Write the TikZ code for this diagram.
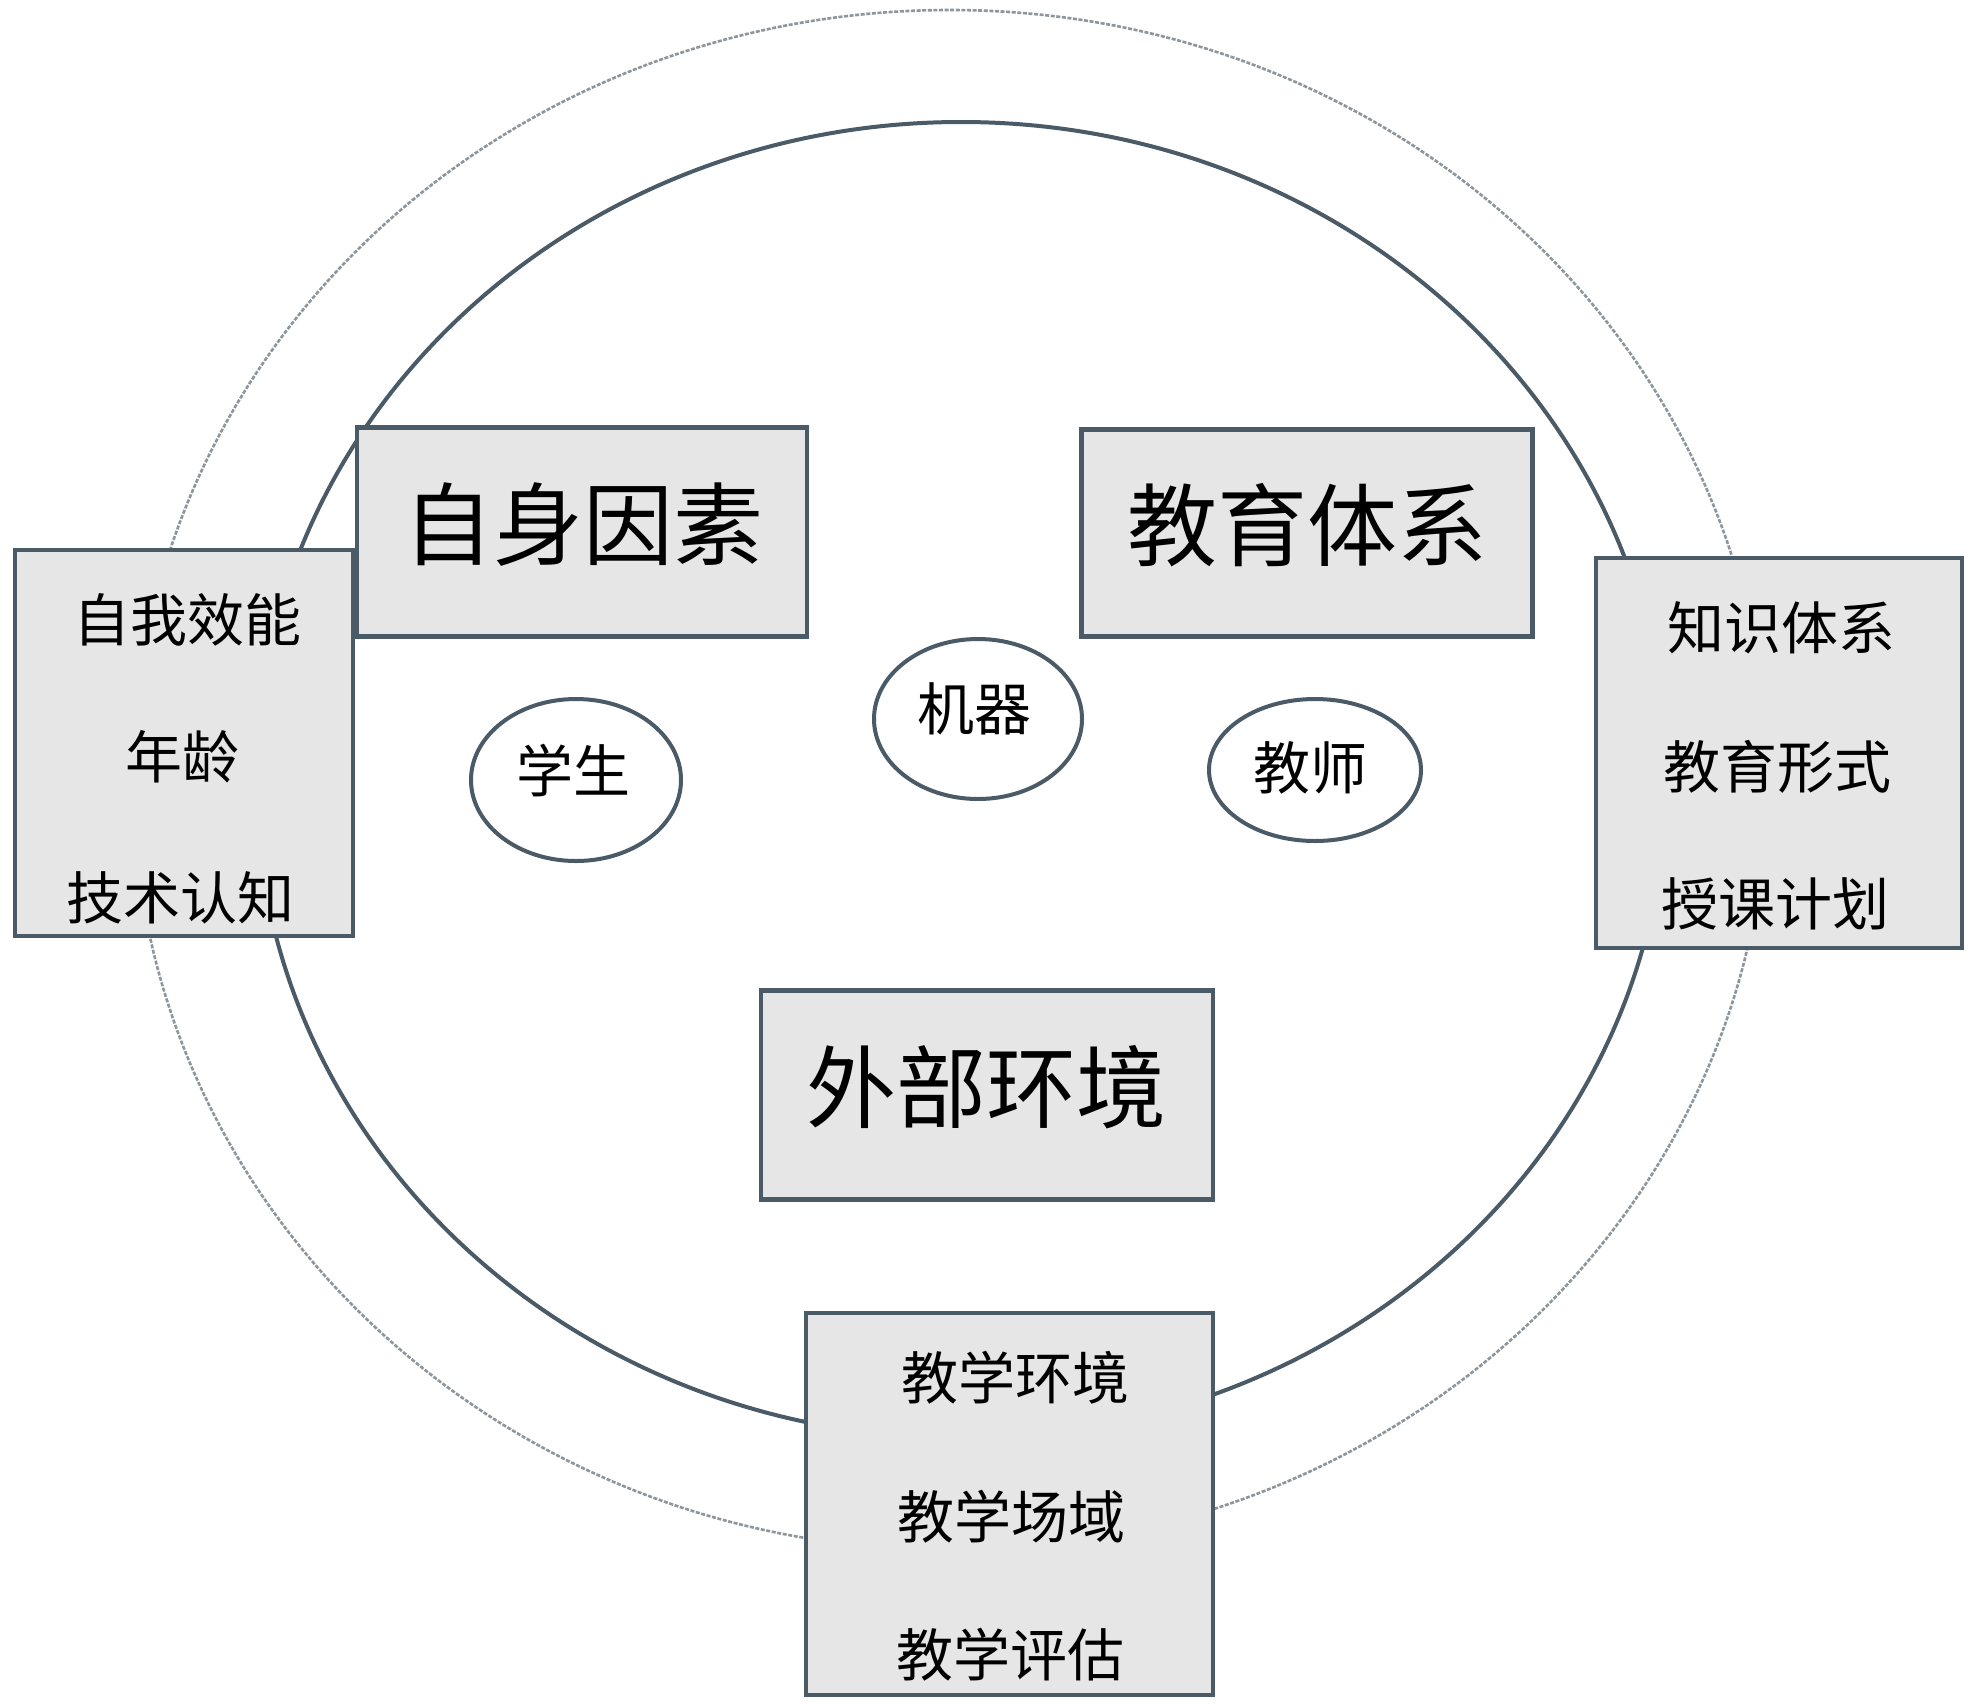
\documentclass[tikz,border=0pt]{standalone}
\usepackage{fontspec}
\newfontfamily\cjk{Noto Sans CJK SC}
\usetikzlibrary{shapes.geometric}
\definecolor{edgec}{RGB}{74,90,102}
\definecolor{boxfill}{RGB}{230,230,230}
\definecolor{outerc}{RGB}{140,150,156}
\tikzset{
  ringline/.style={draw=edgec, line width=2pt},
  outerline/.style={draw=outerc, line width=1.3pt, dash pattern=on 2pt off 0.8pt},
  graybox/.style={draw=edgec, fill=boxfill, line width=2.2pt, rectangle, inner sep=0pt},
  bigtext/.style={font=\cjk\fontsize{45pt}{48pt}\selectfont, inner sep=0pt},
  smalltext/.style={font=\cjk\fontsize{28.5pt}{31pt}\selectfont, inner sep=0pt},
  oval/.style={draw=edgec, fill=white, line width=2pt, ellipse, inner sep=0pt}
}
\begin{document}
\begin{tikzpicture}[x=0.5pt, y=-0.5pt]
\useasboundingbox[fill=white] (0,0) rectangle (1969,1703);
% rings
\draw[outerline] (950,780) ellipse [x radius=817, y radius=770];
\draw[ringline] (961,780) ellipse [x radius=705, y radius=658];
% main boxes
\node[graybox, minimum width=225pt, minimum height=104.5pt] (self) at (582,532) {};
\node[bigtext] (selft) at (583,525) {自身因素};
\node[graybox, minimum width=225.5pt, minimum height=103.5pt] (edu) at (1307,533) {};
\node[bigtext] (edut) at (1307,525) {教育体系};
\node[graybox, minimum width=226pt, minimum height=104.5pt] (env) at (987,1095) {};
\node[bigtext] (envt) at (986,1087) {外部环境};
% side boxes
\node[graybox, minimum width=169pt, minimum height=193pt] (lbox) at (184,743) {};
\node[smalltext] (l1) at (187,620) {自我效能};
\node[smalltext] (l2) at (182,757) {年龄};
\node[smalltext] (l3) at (180,898) {技术认知};
\node[graybox, minimum width=183pt, minimum height=195pt] (rbox) at (1779,753) {};
\node[smalltext] (r1) at (1781,628) {知识体系};
\node[smalltext] (r2) at (1777,767) {教育形式};
\node[smalltext] (r3) at (1775,904) {授课计划};
\node[graybox, minimum width=203.5pt, minimum height=191pt] (bbox) at (1009.5,1504) {};
\node[smalltext] (b1) at (1015,1378) {教学环境};
\node[smalltext] (b2) at (1011,1517) {教学场域};
\node[smalltext] (b3) at (1010,1655) {教学评估};
% ovals
\node[oval, minimum width=105pt, minimum height=81pt] (stu) at (576,780) {};
\node[smalltext] (stut) at (573,771) {学生};
\node[oval, minimum width=104pt, minimum height=80pt] (mach) at (978,719) {};
\node[smalltext] (macht) at (974,709) {机器};
\node[oval, minimum width=106pt, minimum height=71pt] (tea) at (1315,770) {};
\node[smalltext] (teat) at (1310,768) {教师};
\end{tikzpicture}
\end{document}
